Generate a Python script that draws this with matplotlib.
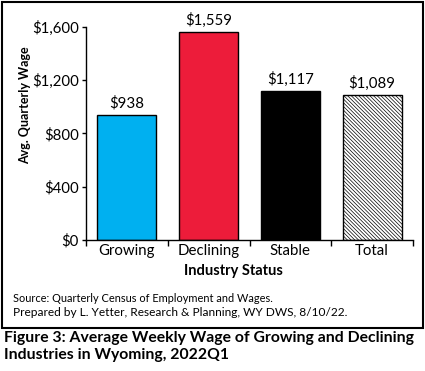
import matplotlib
matplotlib.use('Agg')
import matplotlib.pyplot as plt
from matplotlib.patches import Rectangle
from matplotlib.ticker import FuncFormatter, FixedLocator

plt.rcParams['font.family'] = ['Lato', 'DejaVu Sans']
plt.rcParams['hatch.color'] = '#ababab'
plt.rcParams['hatch.linewidth'] = 0.5

# Chart data
categories = ['Growing', 'Declining', 'Stable', 'Total']
wages = [938, 1559, 1117, 1089]
value_labels = ['$938', '$1,559', '$1,117', '$1,089']
bar_colors = ['#00b0f0', '#ed1c3a', '#000000', '#ffffff']
bar_hatches = [None, None, None, '\\' * 9]
y_ticks = [0, 400, 800, 1200, 1600]

W, H = 425, 371
fig = plt.figure(figsize=(W / 100, H / 100), dpi=100)
fig.patch.set_facecolor('white')

# Axes placed in pixel coordinates
left, right, top, bottom = 86, 413, 27, 240
ax = fig.add_axes([left / W, 1 - bottom / H, (right - left) / W, (bottom - top) / H])

x = range(len(categories))
bars = ax.bar(x, wages, width=0.72, color=bar_colors, edgecolor='black', linewidth=1.0)
for bar, hatch in zip(bars, bar_hatches):
    if hatch:
        bar.set_hatch(hatch)

# Value labels above the bars
for bar, label in zip(bars, value_labels):
    ax.annotate(label, xy=(bar.get_x() + bar.get_width() / 2, bar.get_height()),
                xytext=(0, 3), textcoords='offset points',
                ha='center', va='bottom', fontsize=10.8)

ax.set_xlim(-0.5, len(categories) - 0.5)
ax.set_ylim(0, 1600)
ax.set_yticks(y_ticks)
ax.yaxis.set_major_formatter(FuncFormatter(lambda v, p: f'${v:,.0f}'))
ax.set_xticks(list(x))
ax.set_xticklabels(categories, fontsize=10.8)
ax.xaxis.set_minor_locator(FixedLocator([i - 0.5 for i in range(len(categories) + 1)]))
ax.tick_params(axis='x', which='major', length=0, pad=3)
ax.tick_params(axis='x', which='minor', length=4, width=1, direction='out')
ax.tick_params(axis='y', length=3, width=1, direction='out', labelsize=10.8, pad=2)

for side in ['top', 'right']:
    ax.spines[side].set_visible(False)
for side in ['left', 'bottom']:
    ax.spines[side].set_linewidth(1.0)

# Axis titles placed in figure pixels
fig.text(233 / W, 1 - 271 / H, 'Industry Status', fontsize=10.5, fontweight='bold',
         ha='center', va='center')
fig.text(25.5 / W, 1 - 105 / H, 'Avg. Quarterly Wage', fontsize=9, fontweight='bold',
         rotation=90, ha='center', va='center')

# Source notes
fig.text(13 / W, 1 - 298 / H, 'Source: Quarterly Census of Employment and Wages.',
         fontsize=7.95, ha='left', va='center')
fig.text(13 / W, 1 - 313 / H, 'Prepared by L. Yetter, Research & Planning, WY DWS, 8/10/22.',
         fontsize=8.6, ha='left', va='center')

# Outer border box
fig.patches.append(Rectangle((1.5 / W, 1 - 328 / H), 421 / W, 326.5 / H,
                             transform=fig.transFigure, fill=False,
                             edgecolor='black', linewidth=1.5))

# Figure caption
fig.text(4 / W, 1 - 338 / H, 'Figure 3: Average Weekly Wage of Growing and Declining',
         fontsize=11.3, fontweight='bold', ha='left', va='center')
fig.text(4 / W, 1 - 355 / H, 'Industries in Wyoming, 2022Q1',
         fontsize=11.3, fontweight='bold', ha='left', va='center')

fig.savefig('out.png', dpi=100)
